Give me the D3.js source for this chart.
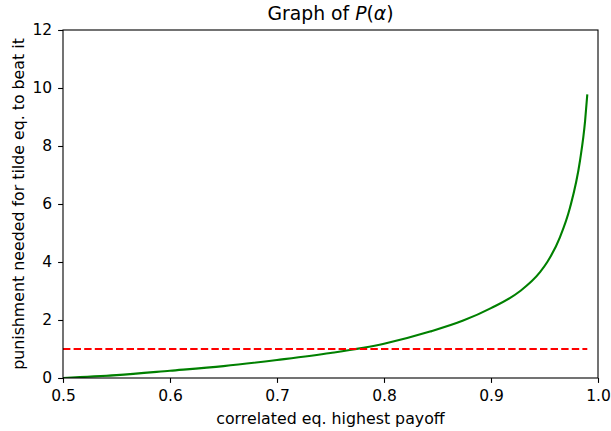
<!DOCTYPE html>
<html>
<head>
<meta charset="utf-8">
<script src="https://cdn.jsdelivr.net/npm/d3@7"></script>
<style>
  html, body { margin: 0; padding: 0; background: #fff; }
  svg { display: block; font-family: "DejaVu Sans", sans-serif; }
</style>
</head>
<body>
<svg id="chart" width="611" height="431"></svg>
<script>
// Data
const alphaValues = [0.5, 0.55, 0.6, 0.65, 0.7, 0.75, 0.8, 0.843, 0.874, 0.9, 0.927, 0.946, 0.9526, 0.9645, 0.9738, 0.9832, 0.9879, 0.99];
const punishmentValues = [0, 0.1, 0.25, 0.41, 0.62, 0.86, 1.18, 1.6, 1.98, 2.41, 2.99, 3.66, 4.0, 4.86, 5.87, 7.5, 8.85, 9.78];
const thresholdX = [0.5, 0.99];
const thresholdY = [1, 1];
const xTicks = [0.5, 0.6, 0.7, 0.8, 0.9, 1.0];
const yTicks = [0, 2, 4, 6, 8, 10, 12];
const titleText = "Graph of ";
const xLabel = "correlated eq. highest payoff";
const yLabel = "punishment needed for tilde eq. to beat it";

const svg = d3.select("#chart");
const W = 611, H = 431;
const m = { left: 63, right: W - 598, top: 30, bottom: H - 378 };

const x = d3.scaleLinear().domain([0.5, 1.0]).range([m.left, W - m.right]);
const y = d3.scaleLinear().domain([0, 12]).range([H - m.bottom, m.top]);

svg.append("clipPath").attr("id", "clip")
  .append("rect").attr("x", m.left).attr("y", m.top)
  .attr("width", W - m.left - m.right).attr("height", H - m.top - m.bottom);

const line = d3.line().x(d => x(d[0])).y(d => y(d[1])).curve(d3.curveMonotoneX);

const plot = svg.append("g").attr("clip-path", "url(#clip)");

plot.append("path")
  .datum(alphaValues.map((a, i) => [a, punishmentValues[i]]))
  .attr("d", line)
  .attr("fill", "none")
  .attr("stroke", "#008000")
  .attr("stroke-width", 2.1)
  .attr("stroke-linejoin", "round");

plot.append("path")
  .datum(thresholdX.map((a, i) => [a, thresholdY[i]]))
  .attr("d", d3.line().x(d => x(d[0])).y(d => y(d[1])))
  .attr("fill", "none")
  .attr("stroke", "#ff0000")
  .attr("stroke-width", 2.1)
  .attr("stroke-dasharray", "7.4,3.2");

// Axes
const xAxis = d3.axisBottom(x).tickValues(xTicks).tickFormat(d3.format(".1f")).tickSize(4.9).tickPadding(7.5);
const yAxis = d3.axisLeft(y).tickValues(yTicks).tickFormat(d3.format("d")).tickSize(4.9).tickPadding(6);

const gx = svg.append("g").attr("transform", `translate(0,${H - m.bottom})`).call(xAxis);
const gy = svg.append("g").attr("transform", `translate(${m.left},0)`).call(yAxis);
[gx, gy].forEach(g => {
  g.attr("font-size", null).attr("font-family", null);
  g.select(".domain").remove();
  g.selectAll(".tick line").attr("stroke", "#000").attr("stroke-width", 1.1);
  g.selectAll(".tick text").attr("fill", "#000").style("font-size", "15.5px").style("font-family", "'DejaVu Sans', sans-serif");
});

// Frame (spines)
svg.append("rect")
  .attr("x", m.left).attr("y", m.top)
  .attr("width", W - m.left - m.right).attr("height", H - m.top - m.bottom)
  .attr("fill", "none").attr("stroke", "#000").attr("stroke-width", 1.1);

// Title
const t = svg.append("text")
  .attr("x", (m.left + W - m.right) / 2).attr("y", 20)
  .attr("text-anchor", "middle")
  .style("font-size", "18.8px").attr("fill", "#000");
t.append("tspan").text(titleText);
t.append("tspan").attr("font-style", "italic").text("P");
t.append("tspan").text("(");
t.append("tspan").attr("font-style", "italic").text("α");
t.append("tspan").text(")");

// Axis labels
svg.append("text")
  .attr("x", (m.left + W - m.right) / 2).attr("y", 424)
  .attr("text-anchor", "middle").style("font-size", "15.8px").attr("fill", "#000")
  .text(xLabel);

svg.append("text")
  .attr("transform", `translate(23.5,${(m.top + H - m.bottom) / 2}) rotate(-90)`)
  .attr("text-anchor", "middle").style("font-size", "15.8px").attr("fill", "#000")
  .text(yLabel);
</script>
</body>
</html>
